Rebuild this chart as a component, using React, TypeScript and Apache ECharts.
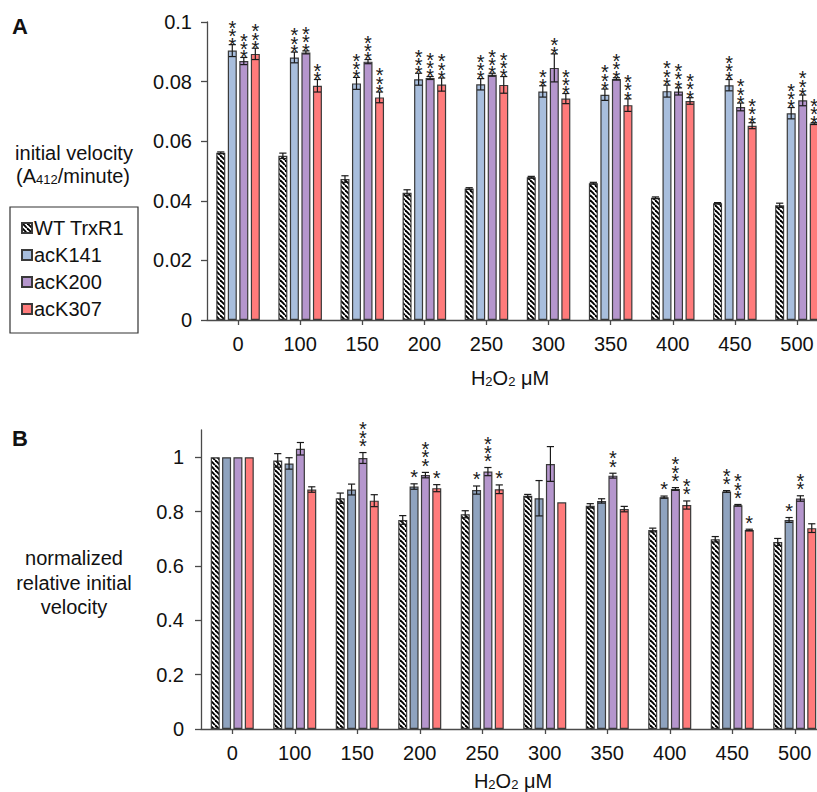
import React, { useEffect, useRef } from 'react';
import * as echarts from 'echarts';

const categories = ['0', '100', '150', '200', '250', '300', '350', '400', '450', '500'];
const seriesNames = ['WT TrxR1', 'acK141', 'acK200', 'acK307'];

// Panel A: initial velocity (A412/minute)
const wtA = [0.0561, 0.0551, 0.0473, 0.0427, 0.0441, 0.0479, 0.0459, 0.041, 0.0392, 0.0385];
const wtAErr = [0.0003, 0.0009, 0.0011, 0.001, 0.0003, 0.0003, 0.0003, 0.0003, 0.0002, 0.0007];
const k141A = [0.0904, 0.0881, 0.0794, 0.0808, 0.0791, 0.0767, 0.0756, 0.0768, 0.0788, 0.0694];
const k141AErr = [0.002, 0.0018, 0.002, 0.002, 0.0019, 0.0019, 0.0019, 0.002, 0.0019, 0.0019];
const k200A = [0.0869, 0.0898, 0.0867, 0.0812, 0.0823, 0.0846, 0.0809, 0.0767, 0.0715, 0.0737];
const k200AErr = [0.0012, 0.0005, 0.0007, 0.0005, 0.0005, 0.0047, 0.0004, 0.0012, 0.0013, 0.0018];
const k307A = [0.0893, 0.0786, 0.0747, 0.079, 0.0789, 0.0743, 0.0721, 0.0735, 0.0652, 0.0659];
const k307AErr = [0.0019, 0.0021, 0.0018, 0.0022, 0.0028, 0.0017, 0.0021, 0.0011, 0.001, 0.0003];
const wtAStars = ['', '', '', '', '', '', '', '', '', ''];
const k141AStars = ['***', '***', '***', '***', '***', '**', '***', '***', '***', '***'];
const k200AStars = ['***', '***', '***', '***', '***', '**', '***', '***', '***', '***'];
const k307AStars = ['***', '**', '***', '***', '***', '***', '***', '***', '***', '***'];
const yTicksA = [0, 0.02, 0.04, 0.06, 0.08, 0.1];

// Panel B: normalized relative initial velocity
const wtB = [1, 0.988, 0.849, 0.769, 0.79, 0.858, 0.821, 0.732, 0.698, 0.688];
const wtBErr = [0, 0.025, 0.019, 0.016, 0.013, 0.005, 0.008, 0.007, 0.01, 0.013];
const k141B = [1, 0.977, 0.881, 0.892, 0.879, 0.849, 0.839, 0.853, 0.874, 0.769];
const k141BErr = [0, 0.021, 0.02, 0.01, 0.015, 0.065, 0.008, 0.004, 0.003, 0.009];
const k200B = [1, 1.031, 0.997, 0.934, 0.947, 0.975, 0.932, 0.883, 0.823, 0.848];
const k200BErr = [0, 0.023, 0.02, 0.01, 0.015, 0.064, 0.009, 0.005, 0.003, 0.01];
const k307B = [1, 0.881, 0.84, 0.886, 0.882, 0.834, 0.809, 0.824, 0.732, 0.739];
const k307BErr = [0, 0.01, 0.022, 0.013, 0.016, 0, 0.01, 0.015, 0.003, 0.016];
const wtBStars = ['', '', '', '', '', '', '', '', '', ''];
const k141BStars = ['', '', '', '*', '*', '', '', '*', '**', '*'];
const k200BStars = ['', '', '***', '***', '***', '', '**', '***', '***', '**'];
const k307BStars = ['', '', '', '*', '*', '', '', '**', '*', ''];
const yTicksB = [0, 0.2, 0.4, 0.6, 0.8, 1];

const FONT = '"Liberation Sans", Arial, Helvetica, sans-serif';
const BAR_W = 9;
const GAP_A = 0.28;
const GAP_B = 0.26;

function makeHatch(): HTMLCanvasElement {
  const s = 5;
  const cv = document.createElement('canvas');
  cv.width = s;
  cv.height = s;
  const ctx = cv.getContext('2d')!;
  ctx.fillStyle = '#ffffff';
  ctx.fillRect(0, 0, s, s);
  ctx.strokeStyle = '#000000';
  ctx.lineWidth = 1.9;
  for (const k of [-s, 0, s]) {
    ctx.beginPath();
    ctx.moveTo(k, 0);
    ctx.lineTo(k + s, s);
    ctx.stroke();
  }
  return cv;
}

export default function App() {
  const ref = useRef<HTMLDivElement>(null);
  useEffect(() => {
    if (!ref.current) return;
    const chart = echarts.init(ref.current, undefined, { renderer: 'svg' });
    const hatch = { image: makeHatch(), repeat: 'repeat' } as any;

    const colorsA = [hatch, '#A8BEDD', '#B596CD', '#FF7B7B'];
    const colorsB = [hatch, '#8FA3BF', '#B596CD', '#FF7B7B'];
    const valsA = [wtA, k141A, k200A, k307A];
    const errsA = [wtAErr, k141AErr, k200AErr, k307AErr];
    const starsA = [wtAStars, k141AStars, k200AStars, k307AStars];
    const valsB = [wtB, k141B, k200B, k307B];
    const errsB = [wtBErr, k141BErr, k200BErr, k307BErr];
    const starsB = [wtBStars, k141BStars, k200BStars, k307BStars];

    const barSeries = (panel: number) => {
      const vals = panel === 0 ? valsA : valsB;
      const cols = panel === 0 ? colorsA : colorsB;
      const gap = panel === 0 ? GAP_A : GAP_B;
      return vals.map((v, k) => ({
        type: 'bar',
        name: seriesNames[k],
        xAxisIndex: panel,
        yAxisIndex: panel,
        data: v,
        barWidth: BAR_W,
        barGap: `${gap * 100}%`,
        itemStyle: { color: cols[k], borderColor: '#3a3a3a', borderWidth: 1.2 },
        z: 2,
      }));
    };

    const errSeries = (panel: number) => {
      const vals = panel === 0 ? valsA : valsB;
      const errs = panel === 0 ? errsA : errsB;
      const stars = panel === 0 ? starsA : starsB;
      const gap = panel === 0 ? GAP_A : GAP_B;
      const starAnchor = panel === 0 ? 4 : -2.5;
      return vals.map((v, k) => ({
        type: 'custom',
        xAxisIndex: panel,
        yAxisIndex: panel,
        z: 5,
        silent: true,
        data: v.map((val, i) => [i, val, errs[k][i]]),
        renderItem: (params: any, api: any) => {
          const i = api.value(0);
          const val = api.value(1);
          const e = api.value(2);
          const step = BAR_W * (1 + gap);
          const off = (k - 1.5) * step;
          const c = api.coord([i, val]);
          const t = api.coord([i, val + e]);
          const b = api.coord([i, val - e]);
          const x = c[0] + off;
          const children: any[] = [];
          if (e > 0) {
            const ls = { stroke: '#1a1a1a', lineWidth: 1.2 };
            children.push({ type: 'line', shape: { x1: x, y1: t[1], x2: x, y2: b[1] }, style: ls });
            children.push({ type: 'line', shape: { x1: x - 3.6, y1: t[1], x2: x + 3.6, y2: t[1] }, style: ls });
            children.push({ type: 'line', shape: { x1: x - 3.6, y1: b[1], x2: x + 3.6, y2: b[1] }, style: ls });
          }
          const s: string = stars[k][params.dataIndex] || '';
          if (s.length) {
            children.push({
              type: 'text',
              x: x,
              y: t[1] + starAnchor,
              style: {
                text: s.split('').join('\n'),
                fontSize: 20,
                lineHeight: 8.3,
                fontFamily: FONT,
                fill: '#1a1a1a',
                align: 'center',
                verticalAlign: 'bottom',
              },
            });
          }
          return { type: 'group', children };
        },
      }));
    };

    const axisText = { fontSize: 20, color: '#111', fontFamily: FONT };
    const lineStyle = { color: '#4a4a4a', width: 1.3 };

    const sub = { fontSize: 13, fontFamily: FONT, fill: '#111', verticalAlign: 'bottom', lineHeight: 13 };
    const norm = { fontSize: 20, fontFamily: FONT, fill: '#111', lineHeight: 22 };

    const txt = (text: string, x: number, y: number, extra: any = {}) => ({
      type: 'text',
      x,
      y,
      style: {
        text,
        fontSize: 20,
        fontFamily: FONT,
        fill: '#111',
        align: 'center',
        verticalAlign: 'middle',
        ...extra,
      },
    });

    const option: any = {
      animation: false,
      backgroundColor: '#ffffff',
      textStyle: { fontFamily: FONT },
      legend: {
        data: seriesNames,
        orient: 'vertical',
        left: 21,
        top: 218,
        itemWidth: 10,
        itemHeight: 10,
        itemGap: 7,
        padding: 0,
        icon: 'rect',
        selectedMode: false,
        textStyle: { fontSize: 20, color: '#111', fontFamily: FONT, padding: [0, 0, 0, -3] },
      },
      grid: [
        { left: 207, top: 22, width: 621, height: 298, containLabel: false, outerBoundsMode: 'none' },
        { left: 201, top: 430, width: 625, height: 299, containLabel: false, outerBoundsMode: 'none' },
      ],
      xAxis: [0, 1].map((p) => ({
        type: 'category',
        gridIndex: p,
        data: categories,
        axisLine: { show: true, lineStyle },
        axisTick: { show: true, alignWithLabel: true, length: 5, lineStyle },
        axisLabel: { ...axisText, margin: 14 },
        splitLine: { show: false },
      })),
      yAxis: [
        {
          type: 'value',
          gridIndex: 0,
          min: 0,
          max: 0.1,
          interval: 0.02,
          axisLine: { show: true, lineStyle },
          axisTick: { show: true, length: 6, lineStyle, customValues: yTicksA },
          axisLabel: { ...axisText, margin: 15, customValues: yTicksA },
          splitLine: { show: false },
        },
        {
          type: 'value',
          gridIndex: 1,
          min: 0,
          max: 1.1,
          interval: 0.2,
          axisLine: { show: true, lineStyle },
          axisTick: { show: true, length: 6, lineStyle, customValues: yTicksB },
          axisLabel: {
            ...axisText,
            margin: 17,
            customValues: yTicksB,
            formatter: (v: number) => (v > 1.05 ? '' : String(Math.round(v * 10) / 10)),
          },
          splitLine: { show: false },
        },
      ],
      graphic: [
        txt('A', 20, 26, { fontSize: 22, fontWeight: 'bold' }),
        txt('B', 20, 438, { fontSize: 22, fontWeight: 'bold' }),
        txt('initial velocity', 74, 153),
        txt('(A{sub|412}/minute)', 73, 176, { rich: { sub, norm } }),
        txt('normalized', 74, 558),
        txt('relative initial', 74, 583),
        txt('velocity', 74, 607),
        txt('H{sub|2}O{sub|2} μM', 510, 378, { rich: { sub, norm } }),
        txt('H{sub|2}O{sub|2} μM', 513, 781, { rich: { sub, norm } }),
        {
          type: 'rect',
          shape: { x: 10, y: 207, width: 128, height: 126 },
          style: { fill: 'none', stroke: '#333', lineWidth: 1.2 },
          silent: true,
        },
      ],
      series: [...barSeries(0), ...barSeries(1), ...errSeries(0), ...errSeries(1)],
    };
    chart.setOption(option);
    return () => chart.dispose();
  }, []);

  return (
    <div style={{ position: 'absolute', left: 0, top: 0, width: 817, height: 792, overflow: 'hidden', background: '#fff' }}>
      <div ref={ref} style={{ width: 832, height: 792 }} />
    </div>
  );
}
